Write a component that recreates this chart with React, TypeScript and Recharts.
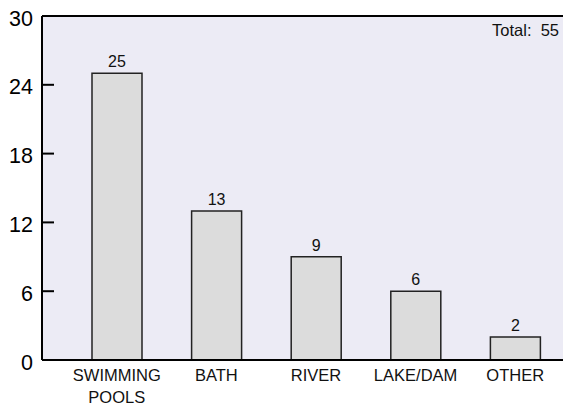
import React from "react";
import {
  BarChart,
  Bar,
  XAxis,
  YAxis,
  CartesianGrid,
  ReferenceLine,
  LabelList,
} from "recharts";

const categories = ["SWIMMING\nPOOLS", "BATH", "RIVER", "LAKE/DAM", "OTHER"];
const counts = [25, 13, 9, 6, 2];
const yTicks = [0, 6, 12, 18, 24, 30];

const data = categories.map((name, i) => ({ name, count: counts[i] }));
const total = counts.reduce((s, v) => s + v, 0);

const W = 580;
const H = 405;
const AXIS_W = 42;
const X_AXIS_H = 45;
const TOP = 16;
const PLOT_BOTTOM = H - X_AXIS_H;
const FONT = '"Liberation Sans", Arial, Helvetica, sans-serif';

function YTick({ y, payload }: any) {
  return (
    <g>
      <line x1={AXIS_W} x2={AXIS_W + 12} y1={y} y2={y} stroke="#000" strokeWidth={2} />
      <text
        x={33}
        y={y + 9.5}
        textAnchor="end"
        fontSize={21.5}
        fontFamily={FONT}
        fill="#000"
      >
        {payload.value}
      </text>
    </g>
  );
}

function XTick({ x, payload }: any) {
  const lines = String(payload.value).split("\n");
  return (
    <text
      x={x}
      y={PLOT_BOTTOM + 21}
      textAnchor="middle"
      fontSize={16.5}
      fontFamily={FONT}
      fill="#111"
    >
      {lines.map((l, i) => (
        <tspan key={i} x={x} dy={i === 0 ? 0 : 21.5}>
          {l}
        </tspan>
      ))}
    </text>
  );
}

function TotalLabel({ viewBox }: any) {
  const right = viewBox.x + viewBox.width - 6;
  return (
    <text
      x={right}
      y={viewBox.y + 20}
      textAnchor="end"
      fontSize={16.5}
      fontFamily={FONT}
      fill="#111"
      style={{ whiteSpace: "pre" }}
    >
      {`Total:  ${total}`}
    </text>
  );
}

export default function App() {
  return (
    <div style={{ position: "absolute", left: 0, top: 0, width: 563, height: H, overflow: "hidden", background: "#fff" }}>
      <BarChart
        width={W}
        height={H}
        data={data}
        margin={{ top: TOP, right: 15, left: 0, bottom: 0 }}
      >
        <CartesianGrid horizontal={false} vertical={false} fill="#ECEBF5" />
        <XAxis
          dataKey="name"
          height={X_AXIS_H}
          padding={{ left: 25, right: 0 }}
          axisLine={{ stroke: "#000", strokeWidth: 2 }}
          tickLine={false}
          interval={0}
          tick={<XTick />}
        />
        <YAxis
          width={AXIS_W}
          domain={[0, 30]}
          ticks={yTicks}
          axisLine={{ stroke: "#000", strokeWidth: 2 }}
          tickLine={false}
          tick={<YTick />}
        />
        <ReferenceLine
          y={30}
          stroke="#000"
          strokeWidth={2}
          label={<TotalLabel />}
        />
        <Bar
          dataKey="count"
          barSize={50}
          fill="#DCDCDC"
          stroke="#222"
          strokeWidth={1.5}
          isAnimationActive={false}
        >
          <LabelList
            dataKey="count"
            position="top"
            offset={6}
            fontSize={16}
            fontFamily={FONT}
            fill="#111"
          />
        </Bar>
      </BarChart>
    </div>
  );
}
